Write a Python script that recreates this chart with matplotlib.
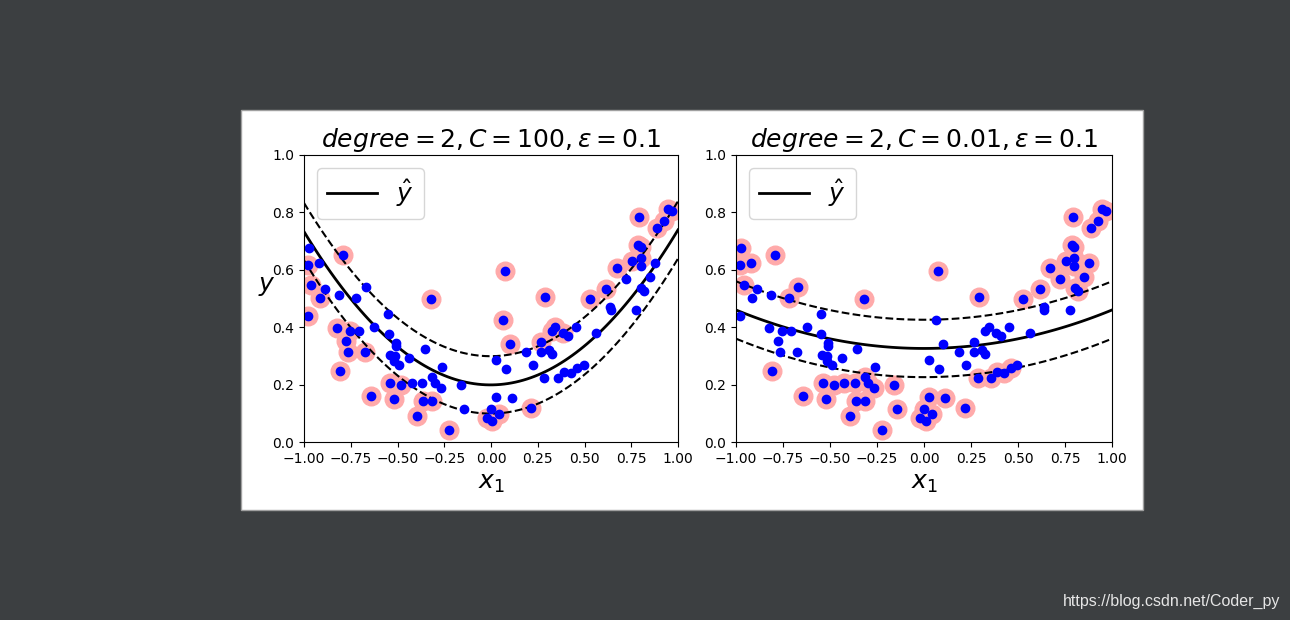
import numpy as np
import matplotlib
matplotlib.use("Agg")
import matplotlib.pyplot as plt
from matplotlib.patches import Rectangle

# training points (same set in both panels)
x_pts = [-0.975, -0.98, -0.92, -0.79, -0.96, -0.89, -0.915, -0.815, -0.72, -0.67,
         -0.32, 0.073, 0.29, 0.793, 0.945, 0.97, 0.923, 0.888, 0.787, 0.80,
         0.756, 0.80, 0.80, 0.672, 0.878, 0.722, 0.85, 0.615, 0.803, 0.82,
         0.527, -0.98, -0.826, -0.755, -0.707, -0.775, -0.766, -0.674, -0.81, -0.624,
         -0.55, -0.546, -0.51, -0.51, -0.542, -0.516, -0.518, -0.49, -0.437, -0.355,
         -0.538, -0.479, -0.425, -0.367, -0.52, -0.643, -0.362, -0.395, 0.063, 0.10,
         -0.263, -0.316, -0.299, -0.268, -0.161, -0.316, -0.142, -0.222, 0.027, 0.082,
         0.029, 0.113, 0.0, -0.021, 0.008, 0.045, 0.216, 0.185, 0.222, 0.268,
         0.268, 0.308, 0.286, 0.637, 0.64, 0.775, 0.344, 0.326, 0.384, 0.41,
         0.453, 0.562, 0.325, 0.357, 0.388, 0.426, 0.462, 0.495]
y_pts = [0.675, 0.617, 0.623, 0.651, 0.547, 0.532, 0.503, 0.512, 0.502, 0.541,
         0.498, 0.596, 0.505, 0.783, 0.811, 0.806, 0.770, 0.745, 0.686, 0.680,
         0.631, 0.642, 0.614, 0.605, 0.623, 0.568, 0.574, 0.532, 0.537, 0.527,
         0.497, 0.439, 0.397, 0.387, 0.387, 0.352, 0.313, 0.313, 0.247, 0.400,
         0.446, 0.375, 0.345, 0.333, 0.303, 0.300, 0.282, 0.268, 0.292, 0.323,
         0.204, 0.199, 0.204, 0.204, 0.149, 0.160, 0.143, 0.092, 0.425, 0.340,
         0.262, 0.228, 0.204, 0.187, 0.199, 0.143, 0.114, 0.042, 0.286, 0.254,
         0.158, 0.154, 0.115, 0.084, 0.073, 0.098, 0.117, 0.313, 0.268, 0.347,
         0.313, 0.319, 0.222, 0.469, 0.460, 0.460, 0.402, 0.387, 0.381, 0.370,
         0.400, 0.379, 0.306, 0.222, 0.243, 0.239, 0.259, 0.268]

# support-vector flags
sv_c100 = [0, 1, 0, 1, 1, 0, 1, 0, 0, 0,
           1, 1, 1, 1, 1, 1, 1, 1, 1, 1,
           1, 1, 0, 1, 0, 0, 0, 1, 0, 0,
           1, 1, 1, 1, 0, 1, 1, 1, 1, 0,
           0, 0, 0, 0, 0, 0, 0, 0, 0, 0,
           1, 1, 0, 0, 1, 1, 1, 1, 1, 1,
           0, 0, 0, 0, 0, 1, 0, 1, 0, 0,
           0, 0, 0, 1, 1, 1, 1, 0, 0, 1,
           0, 0, 0, 0, 0, 0, 1, 1, 1, 0,
           0, 0, 0, 0, 0, 0, 0, 0]
sv_c001 = [1, 1, 1, 1, 1, 0, 0, 0, 1, 1,
           1, 1, 1, 1, 1, 1, 1, 1, 1, 1,
           1, 1, 1, 1, 1, 1, 1, 1, 1, 1,
           1, 0, 0, 0, 0, 0, 0, 0, 1, 0,
           0, 0, 0, 0, 0, 0, 0, 0, 0, 0,
           1, 1, 1, 1, 1, 1, 1, 1, 0, 0,
           0, 1, 1, 1, 1, 1, 1, 1, 0, 0,
           1, 1, 1, 1, 1, 1, 1, 0, 0, 0,
           0, 0, 1, 0, 0, 0, 0, 0, 0, 0,
           0, 0, 0, 1, 1, 1, 1, 0]

# fitted quadratic models (c0, c1, c2) and margin
coef_c100 = [0.199, 0.003, 0.537]
coef_c001 = [0.326, 0.0, 0.134]
epsilon = 0.1

titles = [r"$degree=2, C=100, \epsilon = 0.1$",
          r"$degree=2, C=0.01, \epsilon = 0.1$"]

X = np.array(x_pts)
y = np.array(y_pts)

fig = plt.figure(figsize=(12.9, 6.2), dpi=100, facecolor="#3c3f41")
W, H = 1290, 620
# white "screenshot" of the original 9x4 figure
fig.patches.append(Rectangle((241 / W, (H - 510) / H), 902 / W, 400 / H,
                             transform=fig.transFigure, facecolor="white",
                             edgecolor="#a0a0a0", linewidth=1, zorder=-5))

ax_l = fig.add_axes([304 / W, (H - 442) / H, 374 / W, 287 / H])
ax_r = fig.add_axes([736 / W, (H - 442) / H, 376 / W, 287 / H])

x1s = np.linspace(-1, 1, 100)
for ax, coef, sv, title in [(ax_l, coef_c100, sv_c100, titles[0]),
                            (ax_r, coef_c001, sv_c001, titles[1])]:
    y_pred = np.polyval(coef[::-1], x1s)
    mask = np.array(sv, dtype=bool)
    ax.plot(x1s, y_pred, "k-", linewidth=2, label=r"$\hat{y}$")
    ax.plot(x1s, y_pred + epsilon, "k--")
    ax.plot(x1s, y_pred - epsilon, "k--")
    ax.scatter(X[mask], y[mask], s=180, facecolors="#FFAAAA")
    ax.plot(X, y, "bo")
    ax.set_xlabel(r"$x_1$", fontsize=18)
    ax.legend(loc="upper left", fontsize=18)
    ax.axis([-1, 1, 0, 1])
    ax.set_title(title, fontsize=18)

ax_l.set_ylabel(r"$y$", fontsize=18, rotation=0)

fig.text(1280 / W, (H - 601) / H, "https://blog.csdn.net/Coder_py",
         ha="right", va="center", fontsize=11.5, color="#e6e6e6",
         family=["Liberation Sans", "DejaVu Sans"])

fig.savefig("out.png", dpi=100, facecolor=fig.get_facecolor())
